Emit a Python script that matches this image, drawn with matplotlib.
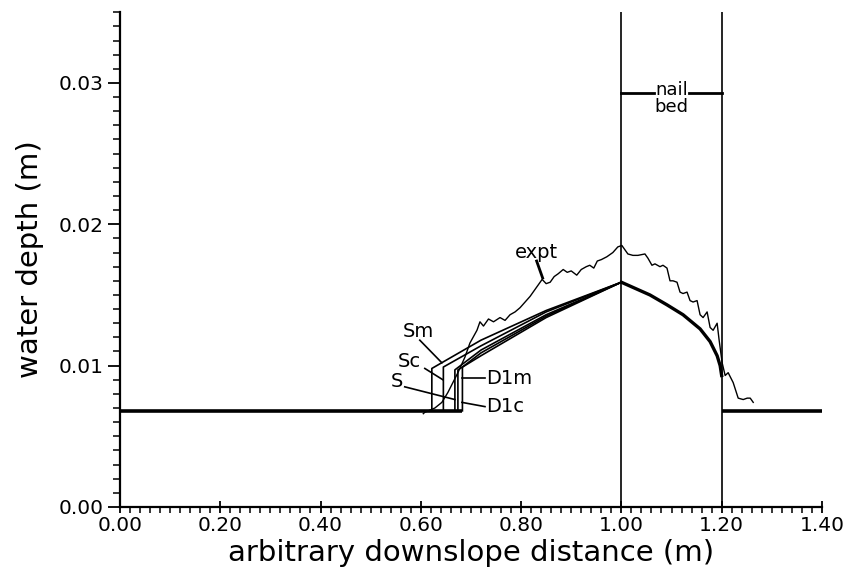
import matplotlib
matplotlib.use("Agg")
import matplotlib.pyplot as plt
from matplotlib.ticker import MultipleLocator, FormatStrFormatter

# experimental depth profile
expt_x = [0.605, 0.608, 0.628, 0.642, 0.654, 0.664, 0.674, 0.688, 0.698, 0.712, 0.718, 0.725, 0.735,
          0.745, 0.758, 0.768, 0.778, 0.788, 0.798, 0.808, 0.818, 0.826, 0.834, 0.842, 0.850, 0.858,
          0.866, 0.874, 0.884, 0.892, 0.900, 0.911, 0.920, 0.930, 0.937, 0.945, 0.952, 0.960, 0.971,
          0.983, 0.993, 1.001, 1.007, 1.013, 1.023, 1.033, 1.047, 1.053, 1.061, 1.067, 1.077, 1.083,
          1.091, 1.097, 1.103, 1.111, 1.117, 1.123, 1.131, 1.137, 1.143, 1.151, 1.157, 1.163, 1.171,
          1.177, 1.183, 1.191, 1.195, 1.201, 1.207, 1.213, 1.223, 1.233, 1.243, 1.251, 1.257, 1.263]
expt_y = [0.0066, 0.0067, 0.0070, 0.0074, 0.0081, 0.0088, 0.0095, 0.0106, 0.0116, 0.0125, 0.0131, 0.0128, 0.0133,
          0.0131, 0.0134, 0.0132, 0.0136, 0.0138, 0.0141, 0.0145, 0.0149, 0.0153, 0.0157, 0.0161, 0.0158, 0.0159,
          0.0163, 0.0165, 0.0168, 0.0166, 0.0167, 0.0164, 0.0168, 0.0170, 0.0171, 0.0169, 0.0174, 0.0175, 0.0177,
          0.0180, 0.0184, 0.0185, 0.0182, 0.0179, 0.0178, 0.0178, 0.0179, 0.0176, 0.0171, 0.0172, 0.0170, 0.0171,
          0.0169, 0.0160, 0.0160, 0.0159, 0.0152, 0.0151, 0.0152, 0.0146, 0.0145, 0.0146, 0.0136, 0.0134, 0.0138,
          0.0127, 0.0125, 0.0130, 0.0118, 0.0102, 0.0093, 0.0095, 0.0088, 0.0077, 0.0076, 0.0077, 0.0077, 0.0074]

# model runs: jump position, jump top, depth at 0.72 and 0.85
names = ["Sm", "Sc", "S", "D1m", "D1c"]
jump_x = [0.622, 0.645, 0.668, 0.683, 0.674]
jump_top = [0.0098, 0.0099, 0.0097, 0.0099, 0.0097]
depth_072 = [0.0118, 0.0114, 0.0111, 0.0109, 0.0107]
depth_085 = [0.0139, 0.0138, 0.0136, 0.0135, 0.0134]
upstream_depth = 0.0068
peak_x, peak_y = 1.0, 0.0159

# common falling limb over the nail bed
fall_x = [1.0, 1.057, 1.091, 1.123, 1.157, 1.177, 1.191, 1.197, 1.2]
fall_y = [0.0159, 0.0150, 0.0143, 0.0136, 0.0126, 0.0117, 0.0107, 0.0100, 0.0093]

fig = plt.figure(figsize=(8.43, 5.83), dpi=100)
ax = fig.add_axes([0.1423, 0.1304, 0.8327, 0.8486])

# upstream and downstream flat depth
ax.plot([0.0, max(jump_x)], [upstream_depth, upstream_depth], color="black", lw=2.6, solid_capstyle="butt")
ax.plot([1.2, 1.4], [upstream_depth, upstream_depth], color="black", lw=2.6, solid_capstyle="butt")

for i in range(len(names)):
    xs = [jump_x[i], jump_x[i], 0.72, 0.85, peak_x]
    ys = [upstream_depth, jump_top[i], depth_072[i], depth_085[i], peak_y]
    ax.plot(xs, ys, color="black", lw=1.2)

ax.plot(fall_x, fall_y, color="black", lw=2.4)
ax.plot(expt_x, expt_y, color="black", lw=1.0)

# nail bed limits
ax.axvline(1.0, color="black", lw=1.2)
ax.axvline(1.2, color="black", lw=1.2)
ax.plot([1.0, 1.065], [0.0293, 0.0293], color="black", lw=2)
ax.plot([1.135, 1.2], [0.0293, 0.0293], color="black", lw=2)
ax.text(1.1, 0.0289, "nail\nbed", ha="center", va="center", fontsize=13, linespacing=0.9)

# labels
ax.text(0.596, 0.0124, "Sm", ha="center", va="center", fontsize=14)
ax.plot([0.598, 0.642], [0.0118, 0.0102], color="black", lw=1.2)
ax.text(0.578, 0.0103, "Sc", ha="center", va="center", fontsize=14)
ax.plot([0.608, 0.644], [0.0098, 0.0090], color="black", lw=1.2)
ax.text(0.552, 0.0089, "S", ha="center", va="center", fontsize=14)
ax.plot([0.568, 0.668], [0.0085, 0.0076], color="black", lw=1.2)
ax.text(0.731, 0.0091, "D1m", ha="left", va="center", fontsize=14)
ax.plot([0.682, 0.728], [0.0091, 0.0091], color="black", lw=1.2)
ax.text(0.731, 0.0071, "D1c", ha="left", va="center", fontsize=14)
ax.plot([0.682, 0.728], [0.0074, 0.0071], color="black", lw=1.2)
ax.text(0.830, 0.0180, "expt", ha="center", va="center", fontsize=14)
ax.plot([0.831, 0.843], [0.0174, 0.0162], color="black", lw=2)

ax.set_xlim(0, 1.4)
ax.set_ylim(0, 0.035)
ax.xaxis.set_major_locator(MultipleLocator(0.2))
ax.xaxis.set_minor_locator(MultipleLocator(0.02))
ax.yaxis.set_major_locator(MultipleLocator(0.01))
ax.yaxis.set_minor_locator(MultipleLocator(0.001))
ax.xaxis.set_major_formatter(FormatStrFormatter("%.2f"))
ax.yaxis.set_major_formatter(FormatStrFormatter("%.2f"))
ax.tick_params(axis="x", which="major", direction="inout", length=9, width=1.3, labelsize=14.5, pad=2)
ax.tick_params(axis="x", which="minor", direction="out", length=4.3, width=1.1)
ax.tick_params(axis="y", which="major", direction="out", length=8.5, width=1.3, labelsize=14.5)
ax.tick_params(axis="y", which="minor", direction="out", length=5, width=1.1)
for s in ["top", "right"]:
    ax.spines[s].set_visible(False)
for s in ["left", "bottom"]:
    ax.spines[s].set_linewidth(1.6)

ax.set_xlabel("arbitrary downslope distance (m)", fontsize=21, labelpad=3)
ax.set_ylabel("water depth (m)", fontsize=21, labelpad=10)

fig.savefig("out.png", dpi=100)
